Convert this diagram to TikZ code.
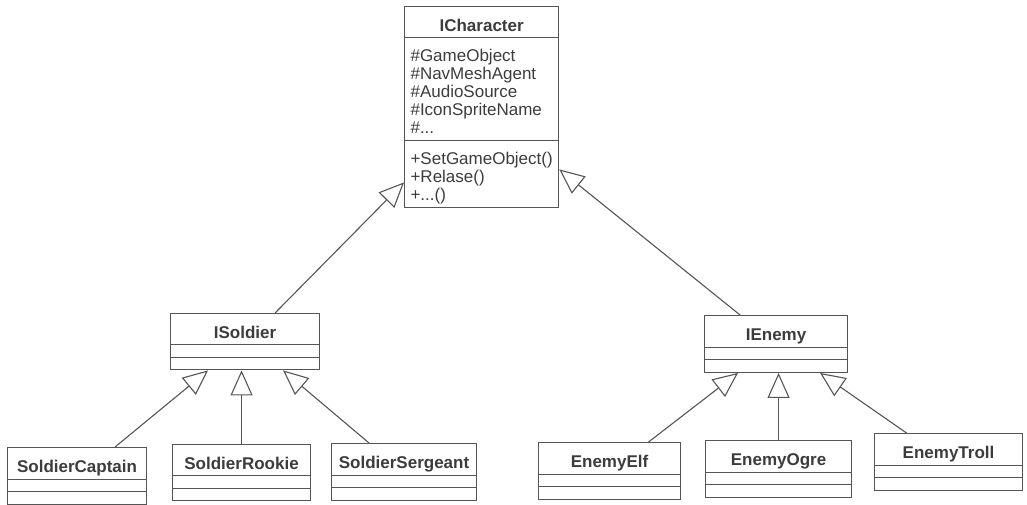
\documentclass[tikz,border=0pt]{standalone}
\usepackage{fontspec}
\setmainfont{Liberation Sans}
\usepackage{tikz}
\usetikzlibrary{shapes.multipart, arrows.meta, positioning}
\definecolor{LineGray}{RGB}{85,85,85}
\definecolor{TextGray}{RGB}{60,60,60}

% class name row and struts for the member rows
\newcommand{\classname}[1]{\rule[-3pt]{0pt}{24pt}\textbf{#1}}
\newcommand{\firstrow}{\rule{0pt}{20pt}}
\newcommand{\lastrow}{\rule[-4pt]{0pt}{4pt}}

\begin{document}
\begin{tikzpicture}[
  x=1pt, y=-1pt,
  font=\fontsize{17}{18}\selectfont,
  umlclass/.style={rectangle split, rectangle split parts=3,
              draw=LineGray, line width=1.1pt, text=TextGray,
              inner xsep=6pt, inner ysep=3pt, align=left,
              rectangle split part align={center,left,left},
              rectangle split empty part height=5.5pt,
              anchor=north west},
  inherit/.style={-{Triangle[open, length=25pt, width=22pt]},
              draw=LineGray, line width=1.1pt},
]
\useasboundingbox (0,0) rectangle (1027,505);

% base class
\node[umlclass, minimum width=152pt] (ichar) at (404,6) {\classname{ICharacter}
  \nodepart{two}\firstrow\#GameObject\\\#NavMeshAgent\\\#AudioSource\\\#IconSpriteName\\\#...\lastrow
  \nodepart{three}\firstrow+SetGameObject()\\+Relase()\\+...()\lastrow};

% abstract soldier / enemy
\node[umlclass, minimum width=149pt] (isoldier) at (170,313) {\classname{ISoldier}};
\node[umlclass, minimum width=143pt] (ienemy) at (704,315) {\classname{IEnemy}};
\draw[inherit] ([xshift=30pt]isoldier.north) -- ([yshift=26pt]ichar.south west);
\draw[inherit] ([xshift=-36pt]ienemy.north) -- ([yshift=39pt]ichar.south east);

% soldier subclasses
\node[umlclass, minimum width=139pt] (captain) at (7,447) {\classname{SoldierCaptain}};
\node[umlclass, minimum width=138pt] (rookie) at (172,444) {\classname{SoldierRookie}};
\node[umlclass, minimum width=145pt] (sergeant) at (331,443) {\classname{SoldierSergeant}};
\draw[inherit] ([xshift=38pt]captain.north) -- ([xshift=-37pt]isoldier.south);
\draw[inherit] (rookie.north) -- (rookie.north |- isoldier.south);
\draw[inherit] ([xshift=-35pt]sergeant.north) -- ([xshift=38pt]isoldier.south);

% enemy subclasses
\node[umlclass, minimum width=142pt] (elf) at (538,442) {\classname{EnemyElf}};
\node[umlclass, minimum width=146pt] (ogre) at (705,440) {\classname{EnemyOgre}};
\node[umlclass, minimum width=148pt] (troll) at (874,433) {\classname{EnemyTroll}};
\draw[inherit] ([xshift=39pt]elf.north) -- ([xshift=-38pt]ienemy.south);
\draw[inherit] (ogre.north) -- (ogre.north |- ienemy.south);
\draw[inherit] ([xshift=-42pt]troll.north) -- ([xshift=44pt]ienemy.south);

\end{tikzpicture}
\end{document}
